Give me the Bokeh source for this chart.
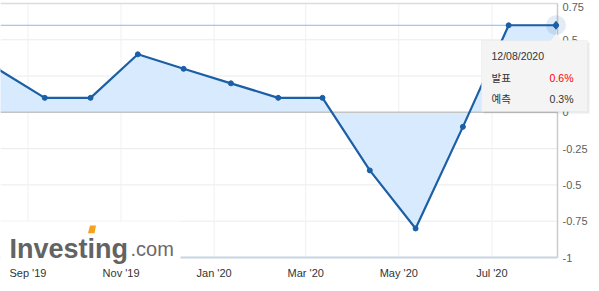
import pandas as pd
from bokeh.plotting import figure
from bokeh.models import (BoxAnnotation, Label, PolyAnnotation, Range1d, ColumnDataSource)
from bokeh.core.properties import value
from bokeh.embed import file_html
from bokeh.resources import INLINE

# ---- data ----
release_dates = ["2019-08-12", "2019-09-12", "2019-10-12", "2019-11-12", "2019-12-12",
                 "2020-01-12", "2020-02-12", "2020-03-12", "2020-04-12", "2020-05-12",
                 "2020-06-12", "2020-07-12", "2020-08-12"]
actual_values = [0.3, 0.1, 0.1, 0.4, 0.3, 0.2, 0.1, 0.1, -0.4, -0.8, -0.1, 0.6, 0.6]
y_tick_values = [-1, -0.75, -0.5, -0.25, 0, 0.25, 0.5, 0.75]
y_tick_labels = ["-1", "-0.75", "-0.5", "-0.25", "0", "0.25", "0.5", "0.75"]
x_tick_dates = ["2019-09-01", "2019-11-01", "2020-01-01", "2020-03-01", "2020-05-01", "2020-07-01"]
x_tick_labels = ["Sep '19", "Nov '19", "Jan '20", "Mar '20", "May '20", "Jul '20"]
tooltip_date = "12/08/2020"
tooltip_actual_label = "발표"
tooltip_actual = "0.6%"
tooltip_forecast_label = "예측"
tooltip_forecast = "0.3%"
current_value = 0.6

x = pd.to_datetime(release_dates)
xt = pd.to_datetime(x_tick_dates)
src = ColumnDataSource(dict(x=x, y=actual_values))

FONT = "Liberation Sans"
W, H = 599, 291
PLOT_RIGHT, PLOT_TOP, PLOT_BOTTOM = 557, 3, 257   # canvas px of the plotting box
y_min, y_max = -1, 0.75
x_start = pd.Timestamp("2019-08-14")
x_end = pd.Timestamp("2020-08-13")

# frame covers the whole canvas so that labels / tooltip are not clipped
span_x = (x_end - x_start)
fx_end = x_start + span_x * (W / PLOT_RIGHT)
upp = (y_max - y_min) / (PLOT_BOTTOM - PLOT_TOP)
fy_top = y_max + PLOT_TOP * upp
fy_bot = y_min - (H - PLOT_BOTTOM) * upp

p = figure(width=W, height=H, x_axis_type=None, y_axis_type=None,
           x_axis_location=None, y_axis_location=None,
           output_backend="svg", toolbar_location=None,
           x_range=Range1d(x_start, fx_end), y_range=Range1d(fy_bot, fy_top),
           min_border=0)
p.background_fill_color = "white"
p.border_fill_color = "white"
p.outline_line_color = None
p.grid.visible = False

# grid
p.segment(x0=x_start, x1=x_end, y0=y_tick_values, y1=y_tick_values,
          line_color="#ebebeb", line_width=1)
p.segment(x0=xt, x1=xt, y0=y_min, y1=y_max, line_color="#f0f0f0", line_width=1)

# area
p.varea(x="x", y1=0, y2="y", source=src, fill_color="#d8eafd")
# zero line, top border, current-value line
p.segment(x0=[x_start], x1=[x_end], y0=[0], y1=[0], line_color="#c4c4c4", line_width=1.5)
p.segment(x0=[x_start], x1=[x_end], y0=[y_max], y1=[y_max], line_color="#dcdcdc", line_width=1.5)
p.segment(x0=[x_start], x1=[x_end], y0=[current_value], y1=[current_value],
          line_color="#86bbec", line_width=1)
# axis lines
p.segment(x0=[x_start], x1=[x_end], y0=[y_min], y1=[y_min], line_color="#c8d4e2", line_width=2)
p.segment(x0=[x_end], x1=[x_end], y0=[y_min], y1=[y_max], line_color="#cccccc", line_width=1.5)

# series
p.line(x="x", y="y", source=src, line_color="#1b5fa6", line_width=2.2)
p.scatter(x="x", y="y", source=src, size=5, marker="circle", fill_color="#1b5fa6",
          line_color="#1b5fa6")
p.scatter(x=[x[-1]], y=[actual_values[-1]], size=20, marker="circle",
          fill_color="#1b5fa6", fill_alpha=0.12, line_color=None)
p.scatter(x=[x[-1]], y=[actual_values[-1]], size=8, marker="diamond",
          fill_color="#1b5fa6", line_color="#1b5fa6")

# axis labels (top label nudged down so it stays inside the canvas)
p.text(x=[x_end] * len(y_tick_values), y=y_tick_values, text=y_tick_labels, x_offset=5,
       y_offset=[3 if v == y_max else 0 for v in y_tick_values],
       text_font=value(FONT), text_font_size="11px", text_color="#606060",
       text_align="left", text_baseline="middle")
p.text(x=xt, y=[y_min] * len(xt), text=x_tick_labels, y_offset=15,
       text_font=value(FONT), text_font_size="11px", text_color="#333333",
       text_align="center", text_baseline="middle")

# ---- logo (screen units: from canvas bottom-left) ----
def sy(cy):
    return H - cy

p.add_layout(BoxAnnotation(left=0, right=180, bottom=sy(263), top=sy(221),
                           left_units="screen", right_units="screen",
                           bottom_units="screen", top_units="screen",
                           fill_color="white", fill_alpha=1, line_color=None))
p.add_layout(Label(x=9, y=sy(248), x_units="screen", y_units="screen", text="Investing",
                   text_font=FONT, text_font_style="bold", text_font_size="27px",
                   text_color="#636363", text_baseline="alphabetic"))
p.add_layout(Label(x=130, y=sy(248), x_units="screen", y_units="screen", text=".com",
                   text_font=FONT, text_font_size="20px",
                   text_color="#6a6a6a", text_baseline="alphabetic"))
p.add_layout(PolyAnnotation(xs=[87.5, 94, 95.5, 89.5], ys=[sy(232.8), sy(232.8), sy(225), sy(225)],
                            xs_units="screen", ys_units="screen",
                            fill_color="#f6a21e", fill_alpha=1, line_color=None))

# ---- tooltip ----
p.add_layout(BoxAnnotation(left=483, right=589, bottom=sy(113), top=sy(42),
                           left_units="screen", right_units="screen",
                           bottom_units="screen", top_units="screen",
                           fill_color="#000000", fill_alpha=0.08, line_color=None))
p.add_layout(BoxAnnotation(left=481, right=587, bottom=sy(111), top=sy(40),
                           left_units="screen", right_units="screen",
                           bottom_units="screen", top_units="screen",
                           fill_color="#f4f4f4", fill_alpha=1, line_color="#dedede", line_width=1))
p.add_layout(PolyAnnotation(xs=[550, 556, 562], ys=[sy(40.5), sy(33), sy(40.5)],
                            xs_units="screen", ys_units="screen",
                            fill_color="#f4f4f4", fill_alpha=1, line_color=None))
for txt, xx, yy, align, col in [
        (tooltip_date, 491, 55, "left", "#333333"),
        (tooltip_actual_label, 491, 77, "left", "#333333"),
        (tooltip_actual, 573, 77, "right", "#ff0000"),
        (tooltip_forecast_label, 491, 98, "left", "#333333"),
        (tooltip_forecast, 573, 98, "right", "#333333")]:
    font = "Noto Sans CJK KR" if txt in (tooltip_actual_label, tooltip_forecast_label) else FONT
    p.add_layout(Label(x=xx, y=sy(yy), x_units="screen", y_units="screen", text=txt,
                       text_font=font, text_font_size="10.5px", text_color=col,
                       text_align=align, text_baseline="middle"))

open("out.html", "w").write(file_html(p, INLINE))
